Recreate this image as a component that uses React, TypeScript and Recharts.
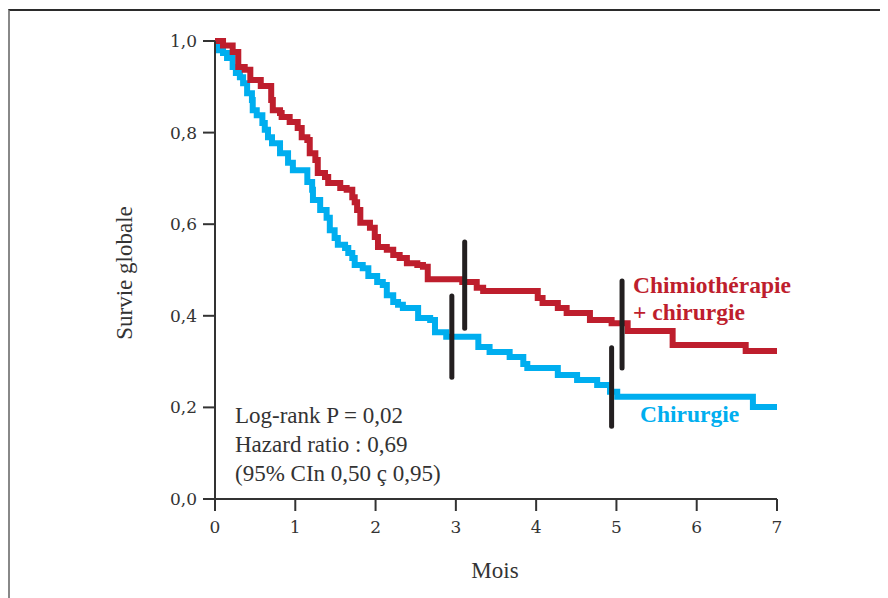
import { LineChart, Line, XAxis, YAxis, ReferenceLine } from 'recharts';

// axis ticks
const xTicks = [0, 1, 2, 3, 4, 5, 6, 7];
const yTicks = [0, 0.2, 0.4, 0.6, 0.8, 1.0];

// Chimiothérapie + chirurgie (step times in months, survival after step)
const redTimes = [
    0, 0.10, 0.22, 0.29, 0.37, 0.44, 0.57, 0.70, 0.72, 0.81, 0.83, 0.93, 1.03, 1.08,
    1.15, 1.18, 1.25, 1.28, 1.37, 1.41, 1.56, 1.64, 1.71, 1.74, 1.77, 1.81, 1.93, 1.99,
    2.03, 2.14, 2.22, 2.30, 2.39, 2.52, 2.59, 2.65, 3.08, 3.26, 3.34, 4.02, 4.08, 4.27,
    4.38, 4.67, 4.94, 5.14, 5.70, 6.61, 7.00,
];
const redSurv = [
    1.0, 0.99, 0.976, 0.943, 0.937, 0.915, 0.902, 0.871, 0.849, 0.843, 0.834, 0.823, 0.810, 0.790,
    0.784, 0.755, 0.740, 0.712, 0.703, 0.690, 0.679, 0.675, 0.659, 0.648, 0.631, 0.603, 0.592, 0.572,
    0.550, 0.544, 0.533, 0.526, 0.515, 0.511, 0.507, 0.480, 0.474, 0.461, 0.454, 0.439, 0.428, 0.417,
    0.406, 0.391, 0.384, 0.367, 0.336, 0.323, 0.323,
];

// Chirurgie
const blueTimes = [
    0, 0.04, 0.10, 0.15, 0.22, 0.26, 0.31, 0.35, 0.40, 0.46, 0.47, 0.52, 0.59, 0.62,
    0.66, 0.71, 0.81, 0.91, 0.97, 1.15, 1.21, 1.22, 1.31, 1.39, 1.43, 1.49, 1.53, 1.62,
    1.66, 1.71, 1.74, 1.84, 1.91, 2.02, 2.09, 2.14, 2.22, 2.28, 2.34, 2.53, 2.68, 2.74,
    2.88, 3.28, 3.42, 3.67, 3.84, 3.89, 4.27, 4.51, 4.76, 4.92, 5.01, 6.70, 7.00,
];
const blueSurv = [
    1.0, 0.98, 0.974, 0.963, 0.943, 0.930, 0.921, 0.908, 0.886, 0.871, 0.849, 0.838, 0.821, 0.806,
    0.790, 0.777, 0.755, 0.734, 0.718, 0.692, 0.675, 0.653, 0.631, 0.614, 0.587, 0.570, 0.555, 0.548,
    0.537, 0.526, 0.511, 0.504, 0.487, 0.474, 0.467, 0.445, 0.430, 0.424, 0.417, 0.395, 0.391, 0.364,
    0.354, 0.332, 0.321, 0.310, 0.295, 0.286, 0.271, 0.260, 0.249, 0.234, 0.223, 0.201, 0.201,
];

// censoring marks: time, bottom, top
const redCensorTimes = [3.11, 5.07];
const redCensorLow = [0.373, 0.286];
const redCensorHigh = [0.561, 0.476];
const blueCensorTimes = [2.95, 4.94];
const blueCensorLow = [0.266, 0.159];
const blueCensorHigh = [0.443, 0.330];

const statsLines = ['Log-rank P = 0,02', 'Hazard ratio : 0,69', '(95% CIn 0,50 ç 0,95)'];

const RED = '#BE1E2D';
const BLUE = '#00AEEF';
const INK = '#231F20';
const AXIS = '#333';
const TEXT_FONT = '"Liberation Serif", serif';
const TICK_FONT = '"DejaVu Serif", serif';

const redData = redTimes.map((t, i) => ({ t, s: redSurv[i] }));
const blueData = blueTimes.map((t, i) => ({ t, s: blueSurv[i] }));

const censors = [
    ...redCensorTimes.map((t, i) => ({ t, lo: redCensorLow[i], hi: redCensorHigh[i] })),
    ...blueCensorTimes.map((t, i) => ({ t, lo: blueCensorLow[i], hi: blueCensorHigh[i] })),
];

export default function App() {
    return (
        <div style={{ position: 'relative', width: 880, height: 590 }}>
            <div
                style={{
                    position: 'absolute', left: 0, top: 1, width: 880, height: 589,
                    borderTop: '2px solid #2b2b2b', borderLeft: '2px solid #888',
                    boxSizing: 'border-box',
                }}
            />
            <LineChart
                width={880}
                height={590}
                margin={{ top: 33, right: 111, left: 0, bottom: 59 }}
                style={{ position: 'absolute', left: 0, top: 0 }}
            >
                <XAxis
                    type="number"
                    dataKey="t"
                    domain={[0, 7]}
                    ticks={xTicks}
                    height={40}
                    tickSize={12}
                    tickMargin={10}
                    axisLine={{ stroke: AXIS, strokeWidth: 2 }}
                    tickLine={{ stroke: AXIS, strokeWidth: 2 }}
                    tick={{ fill: AXIS, fontSize: 17, fontFamily: TICK_FONT }}
                />
                <YAxis
                    type="number"
                    domain={[0, 1]}
                    ticks={yTicks}
                    width={207}
                    tickSize={12}
                    tickMargin={6}
                    axisLine={{ stroke: AXIS, strokeWidth: 2 }}
                    tickLine={{ stroke: AXIS, strokeWidth: 2 }}
                    tick={{ fill: AXIS, fontSize: 17, fontFamily: TICK_FONT }}
                    tickFormatter={v => Number(v).toFixed(1).replace('.', ',')}
                />
                <Line
                    data={blueData}
                    dataKey="s"
                    type="stepAfter"
                    stroke={BLUE}
                    strokeWidth={6}
                    dot={false}
                    activeDot={false}
                    isAnimationActive={false}
                />
                <Line
                    data={redData}
                    dataKey="s"
                    type="stepAfter"
                    stroke={RED}
                    strokeWidth={6}
                    dot={false}
                    activeDot={false}
                    isAnimationActive={false}
                />
                {censors.map((c, i) => (
                    <ReferenceLine
                        key={i}
                        segment={[{ x: c.t, y: c.lo }, { x: c.t, y: c.hi }]}
                        stroke={INK}
                        strokeWidth={5}
                        strokeLinecap="round"
                    />
                ))}
            </LineChart>
            <svg
                width={880}
                height={590}
                style={{ position: 'absolute', left: 0, top: 0, pointerEvents: 'none' }}
            >
                <g fontFamily={TEXT_FONT} fontSize={23} fill={AXIS}>
                    {statsLines.map((line, i) => (
                        <text key={i} x={227} y={415 + i * 29}>{line}</text>
                    ))}
                    <text x={487} y={570} textAnchor="middle">Mois</text>
                    <text
                        x={124}
                        y={265}
                        textAnchor="middle"
                        transform="rotate(-90 124 265)"
                    >
                        Survie globale
                    </text>
                </g>
                <g fontFamily={TEXT_FONT} fontSize={23.5} fontWeight="bold">
                    <text x={625} y={285} fill={RED}>Chimiothérapie</text>
                    <text x={625} y={312} fill={RED}>+ chirurgie</text>
                    <text x={632} y={414} fill={BLUE}>Chirurgie</text>
                </g>
            </svg>
        </div>
    );
}
